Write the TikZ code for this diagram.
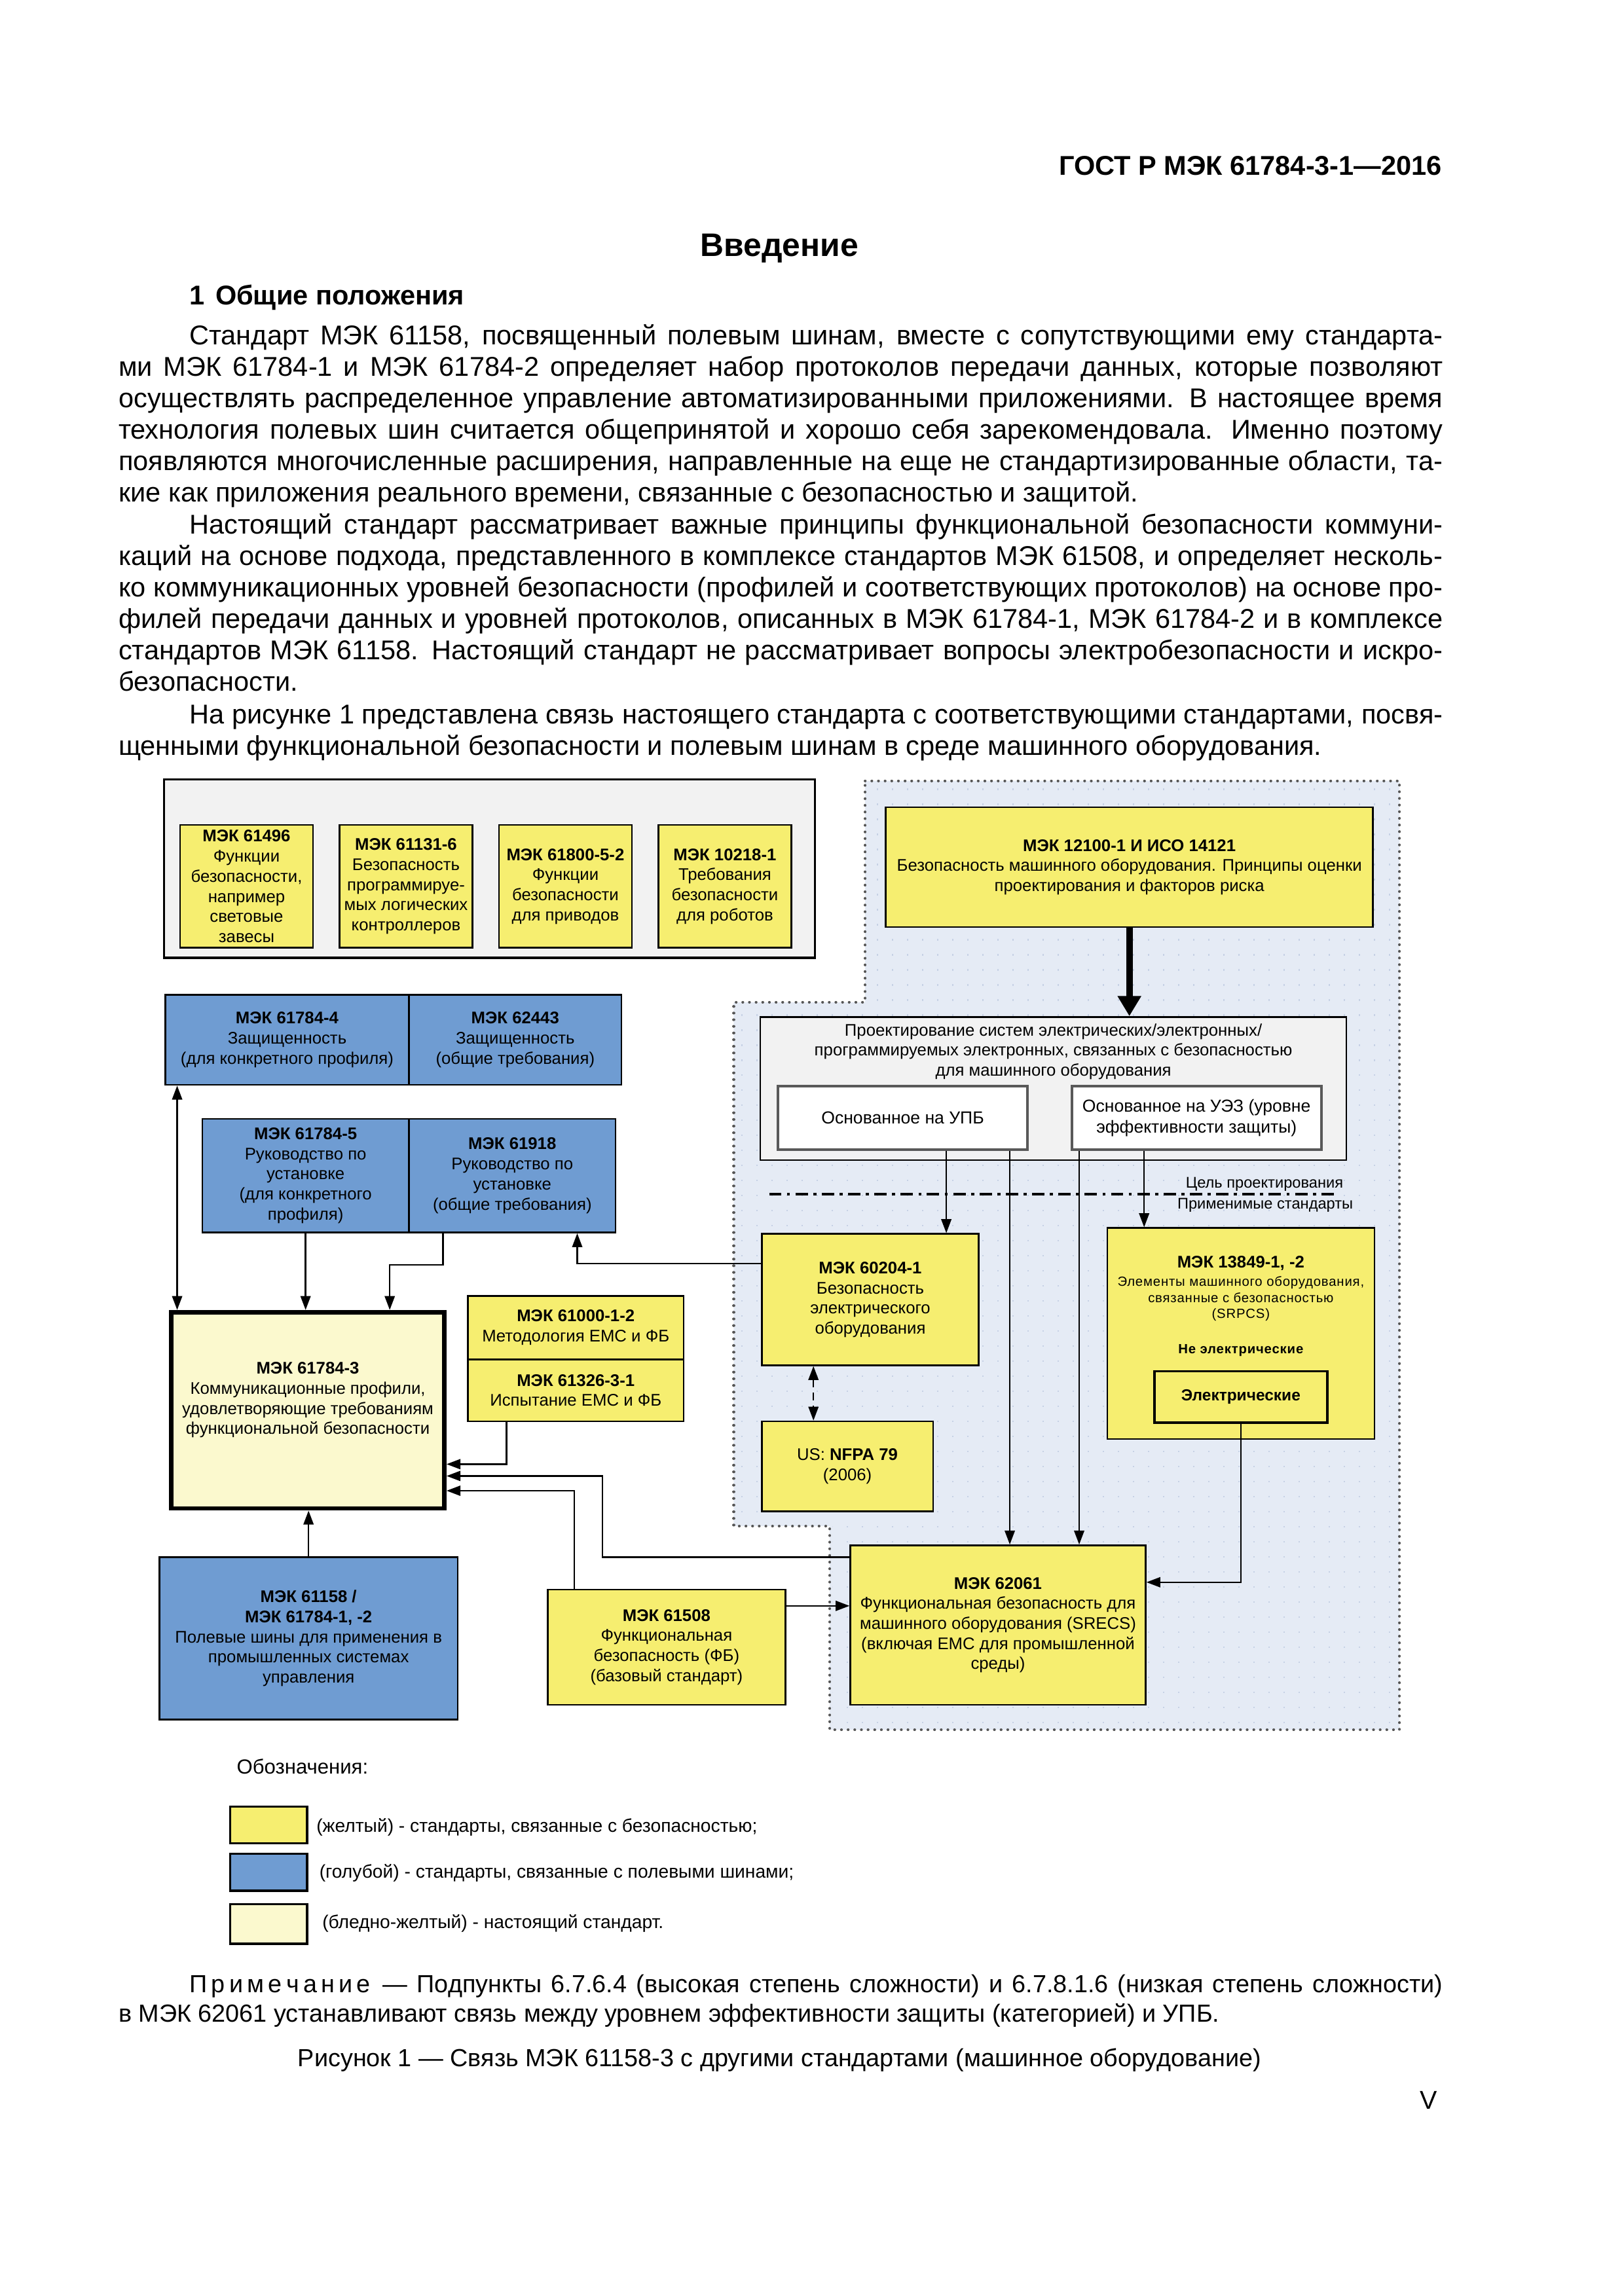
\documentclass[tikz,border=0pt]{standalone}
\usepackage{fontspec}
\setmainfont{Liberation Sans}
\newfontfamily\spacedfont[LetterSpace=4]{Liberation Sans}
\usetikzlibrary{arrows.meta,positioning,calc}

\definecolor{stdyellow}{RGB}{246,238,112}
\definecolor{busblue}{RGB}{111,156,210}
\definecolor{thispale}{RGB}{251,249,206}
\definecolor{groupgrey}{RGB}{242,242,242}
\definecolor{zoneblue}{RGB}{229,235,245}
\definecolor{zonedot}{RGB}{198,209,229}
\definecolor{zoneedge}{RGB}{85,85,85}

\newcommand{\dfont}{\fontsize{6.2}{7.4}\selectfont}
\newcommand{\smallsp}{\spacedfont\fontsize{4.9}{5.95}\selectfont}
\newcommand{\jl}[1]{\makebox[\linewidth][s]{#1}}
\newcommand{\jlin}[1]{\hspace*{9.16mm}\makebox[\dimexpr\linewidth-9.16mm\relax][s]{#1}}

\begin{document}
\begin{tikzpicture}
  [
    x=0.1909mm, y=-0.1909mm,
    sz/.style 2 args = {minimum width=#1*0.1909mm, minimum height=#2*0.1909mm},
    stdbox/.style = {draw, line width=0.6pt, inner sep=1pt, align=center, font=\dfont},
    ybox/.style   = {stdbox, fill=stdyellow},
    bbox/.style   = {stdbox, fill=busblue},
    wbox/.style   = {stdbox, fill=white, draw=black!65, line width=1pt, font=\fontsize{6.4}{7.6}\selectfont},
    pbox/.style   = {stdbox, fill=thispale, line width=1.6pt},
    conn/.style   = {line width=0.6pt, -{Triangle[length=1.8mm,width=1.3mm]}},
    bodytext/.style = {anchor=base west, inner sep=0, font=\fontsize{10}{11.57}\selectfont},
    legtext/.style  = {anchor=west, inner sep=0, font=\fontsize{6.8}{8}\selectfont},
    tiny/.style     = {inner sep=0, font=\fontsize{5.7}{6.8}\selectfont},
  ]

  \useasboundingbox (0,0) rectangle (1100,1555.6);

  % page text
  \node (hdr) [anchor=base east, inner sep=0, font=\fontsize{10}{12}\selectfont\bfseries]
    at (977,118.5) {ГОСТ Р МЭК 61784-3-1—2016};
  \node (title) [anchor=base, inner sep=0, font=\fontsize{12}{14}\selectfont\bfseries]
    at (528,173.5) {Введение};
  \node (sec) [anchor=base west, inner sep=0, font=\fontsize{10}{12}\selectfont\bfseries]
    at (128,206.5) {1\hspace{0.4em}Общие положения};

  \node (par1) [bodytext] at (80,233.5) {\begin{minipage}[t]{171.24mm}\noindent
    \jlin{Стандарт МЭК 61158, посвященный полевым шинам, вместе с сопутствующими ему стандарта-}\\
    \jl{ми МЭК 61784-1 и МЭК 61784-2 определяет набор протоколов передачи данных, которые позволяют}\\
    \jl{осуществлять распределенное управление автоматизированными приложениями. В настоящее время}\\
    \jl{технология полевых шин считается общепринятой и хорошо себя зарекомендовала. Именно поэтому}\\
    \jl{появляются многочисленные расширения, направленные на еще не стандартизированные области, та-}\\
    кие как приложения реального времени, связанные с безопасностью и защитой.
  \end{minipage}};

  \node (par2) [bodytext] at (80,361.8) {\begin{minipage}[t]{171.24mm}\noindent
    \jlin{Настоящий стандарт рассматривает важные принципы функциональной безопасности коммуни-}\\
    \jl{каций на основе подхода, представленного в комплексе стандартов МЭК 61508, и определяет несколь-}\\
    \jl{ко коммуникационных уровней безопасности (профилей и соответствующих протоколов) на основе про-}\\
    \jl{филей передачи данных и уровней протоколов, описанных в МЭК 61784-1, МЭК 61784-2 и в комплексе}\\
    \jl{стандартов МЭК 61158. Настоящий стандарт не рассматривает вопросы электробезопасности и искро-}\\
    безопасности.
  \end{minipage}};

  \node (par3) [bodytext] at (80,490.2) {\begin{minipage}[t]{171.24mm}\noindent
    \jlin{На рисунке 1 представлена связь настоящего стандарта с соответствующими стандартами, посвя-}\\
    щенными функциональной безопасности и полевым шинам в среде машинного оборудования.
  \end{minipage}};

  % machinery zone
  \path[fill=zoneblue, draw=zoneedge, line width=1pt, line cap=round, dash pattern=on 0.01mm off 0.85mm]
    (586,529) -- (948,529) -- (948,1172) -- (562,1172) -- (562,1034)
    -- (497,1034) -- (497,679) -- (586,679) -- cycle;
  \begin{scope}
    \clip (588,531) -- (946,531) -- (946,1170) -- (564,1170) -- (564,1032)
      -- (499,1032) -- (499,681) -- (588,681) -- cycle;
    \foreach \gx in {502,512.2,...,946}
      \foreach \gy in {534,544.2,...,1170}
        \fill[zonedot] (\gx,\gy) rectangle ++(1.2,1.2);
  \end{scope}

  % group of safety standards
  \node (grp) [draw, line width=0.8pt, fill=groupgrey, sz={441}{121}] at (331.5,588.5) {};
  \node (e61496) [ybox, sz={90}{83}] at (167,600.5)
    {\textbf{МЭК 61496}\\Функции\\безопасности,\\например\\световые\\завесы};
  \node (e61131) [ybox, sz={90}{83}] at (275,600.5)
    {\textbf{МЭК 61131-6}\\Безопасность\\программируе-\\мых логических\\контроллеров};
  \node (e61800) [ybox, sz={90}{83}] at (383,600.5)
    {\textbf{МЭК 61800-5-2}\\Функции\\безопасности\\для приводов};
  \node (e10218) [ybox, sz={90}{83}] at (491,600.5)
    {\textbf{МЭК 10218-1}\\Требования\\безопасности\\для роботов};

  \node (iso) [ybox, sz={330}{81}] at (765,587.5)
    {\textbf{МЭК 12100-1 И ИСО 14121}\\Безопасность машинного оборудования. Принципы оценки\\проектирования и факторов риска};

  % design of the systems
  \node (proj) [stdbox, fill=groupgrey, sz={397}{97}] at (713.5,737.5) {};
  \node (projtxt) [align=center, inner sep=0, font=\dfont] at (713.5,712.5)
    {Проектирование систем электрических/электронных/\\программируемых электронных, связанных с безопасностью\\для машинного оборудования};
  \node (upb) [wbox, sz={169}{43}] at (611.5,757.5) {Основанное на УПБ};
  \node (uez) [wbox, sz={169}{43}] at (810.5,757.5) {Основанное на УЭЗ (уровне\\эффективности защиты)};

  \draw[line width=4.3*0.1909mm, -{Triangle[length=2.6mm,width=2.9mm]}] (iso.south) -- (iso.south |- proj.north);

  \coordinate (dl) at (521,809);
  \coordinate (dr) at (905,809);
  \draw[line width=0.9pt, dash pattern=on 1.6mm off 0.7mm on 0.4mm off 0.7mm] (dl) -- (dr);
  \node (goal) [tiny] at (856.5,802.5) {Цель проектирования};
  \node (appl) [tiny] at (857,816.5) {Применимые стандарты};

  % applicable standards
  \node (e60204) [ybox, sz={147}{89}] at (589.5,880.5)
    {\textbf{МЭК 60204-1}\\Безопасность\\электрического\\оборудования};
  \node (nfpa) [ybox, sz={116}{61}] at (574,993.5) {US: \textbf{NFPA 79}\\(2006)};
  \node (e13849) [ybox, sz={181}{143}] at (840.5,903.5) {};
  \node (t13849) [inner sep=0, font=\dfont\bfseries] at (840.5,856) {МЭК 13849-1, -2};
  \node (d13849) [inner sep=0, align=center, font=\smallsp] at (840.5,880)
    {Элементы машинного оборудования,\\связанные с безопасностью\\(SRPCS)};
  \node (nonel) [inner sep=0, font=\smallsp\bfseries] at (840.5,915) {Не электрические};
  \node (elec) [ybox, line width=0.9pt, sz={117}{35}, font=\fontsize{5.9}{7}\selectfont\bfseries] at (840.5,946.5) {Электрические};
  \node (e62061) [ybox, sz={200}{108}] at (676,1101)
    {\textbf{МЭК 62061}\\Функциональная безопасность для\\машинного оборудования (SRECS)\\(включая ЕМС для промышленной\\среды)};

  % fieldbus standards
  \node (e617844) [bbox, sz={165}{61}] at (194.5,704.5)
    {\textbf{МЭК 61784-4}\\Защищенность\\(для конкретного профиля)};
  \node (e62443) [bbox, sz={144}{61}] at (349,704.5)
    {\textbf{МЭК 62443}\\Защищенность\\(общие требования)};
  \node (e617845) [bbox, sz={140}{77}] at (207,796.5)
    {\textbf{МЭК 61784-5}\\Руководство по\\установке\\(для конкретного\\профиля)};
  \node (e61918) [bbox, sz={140}{77}] at (347,796.5)
    {\textbf{МЭК 61918}\\Руководство по\\установке\\(общие требования)};

  \node (e617843) [pbox, sz={185}{133}] at (208.5,955.5) {};
  \node (t617843) [inner sep=0, align=center, font=\dfont] at (208.5,948.5)
    {\textbf{МЭК 61784-3}\\Коммуникационные профили,\\удовлетворяющие требованиям\\функциональной безопасности};
  \node (e61000) [ybox, sz={146}{43}] at (390,899.5) {\textbf{МЭК 61000-1-2}\\Методология ЕМС и ФБ};
  \node (e61326) [ybox, sz={146}{42}] at (390,942) {\textbf{МЭК 61326-3-1}\\Испытание ЕМС и ФБ};
  \node (e61158) [bbox, sz={202}{110}] at (209,1110)
    {\textbf{МЭК 61158 /}\\\textbf{МЭК 61784-1, -2}\\Полевые шины для применения в\\промышленных системах\\управления};
  \node (e61508) [ybox, sz={161}{78}] at (451.5,1116)
    {\textbf{МЭК 61508}\\Функциональная\\безопасность (ФБ)\\(базовый стандарт)};

  % connectors
  \coordinate (kA) at (641,0);
  \coordinate (kB) at (684,0);
  \coordinate (kC) at (731,0);
  \coordinate (kD) at (775,0);
  \draw[conn] (kA |- upb.south) -- (kA |- e60204.north);
  \draw[conn] (kB |- upb.south) -- (kB |- e62061.north);
  \draw[conn] (kC |- uez.south) -- (kC |- e62061.north);
  \draw[conn] (kD |- uez.south) -- (kD |- e13849.north);

  \coordinate (kU) at (551,0);
  \draw[line width=0.6pt, dash pattern=on 1mm off 0.7mm,
    {Triangle[length=1.8mm,width=1.3mm]}-{Triangle[length=1.8mm,width=1.3mm]}]
    (kU |- e60204.south) -- (kU |- nfpa.north);

  \coordinate (k8) at (840.5,1072);
  \draw[conn] (elec.south) -- (k8) -- (k8 -| e62061.east);
  \coordinate (k9) at (532,1088);
  \draw[conn] (k9 -| e61508.east) -- (k9 -| e62061.west);

  \coordinate (k7) at (391,856);
  \draw[conn] (k7 -| e60204.west) -- (k7) -- (k7 |- e61918.south);

  \coordinate (kL) at (120,0);
  \draw[line width=0.6pt, {Triangle[length=1.8mm,width=1.3mm]}-{Triangle[length=1.8mm,width=1.3mm]}]
    (kL |- e617844.south) -- (kL |- e617843.north);
  \draw[conn] (e617845.south) -- (e617845.south |- e617843.north);
  \coordinate (k1) at (300,857);
  \coordinate (k2) at (264,857);
  \draw[conn] (k1 |- e61918.south) -- (k1) -- (k2) -- (k2 |- e617843.north);

  \coordinate (k3) at (343,992);
  \draw[conn] (k3 |- e61326.south) -- (k3) -- (k3 -| e617843.east);
  \coordinate (k4) at (408,1055);
  \coordinate (k5) at (408,1000);
  \draw[conn] (k4 -| e62061.west) -- (k4) -- (k5) -- (k5 -| e617843.east);
  \coordinate (k6) at (389,1010);
  \draw[conn] (k6 |- e61508.north) -- (k6) -- (k6 -| e617843.east);
  \draw[conn] (e61158.north) -- (e61158.north |- e617843.south);

  % legend
  \node (leghead) [anchor=west, inner sep=0, font=\fontsize{7.5}{9}\selectfont] at (160,1197) {Обозначения:};
  \node (legy) [draw, line width=0.8pt, fill=stdyellow, sz={52}{25}] at (182,1236.5) {};
  \node (legb) [draw, line width=0.8pt, fill=busblue, sz={52}{25}] at (182,1268.5) {};
  \node (legp) [draw, line width=0.8pt, fill=thispale, sz={52}{27}] at (182,1303.5) {};
  \node (legyt) [legtext] at (214,1238) {(желтый) - стандарты, связанные с безопасностью;};
  \node (legbt) [legtext] at (216,1269) {(голубой) - стандарты, связанные с полевыми шинами;};
  \node (legpt) [legtext] at (218,1303) {(бледно-желтый) - настоящий стандарт.};

  % note and caption
  \node (note) [anchor=base west, inner sep=0, font=\fontsize{9.1}{10.8}\selectfont] at (80,1350)
    {\begin{minipage}[t]{171.24mm}\noindent
    \jlin{П\,р\,и\,м\,е\,ч\,а\,н\,и\,е\enspace — Подпункты 6.7.6.4 (высокая степень сложности) и 6.7.8.1.6 (низкая степень сложности)}\\
    в МЭК 62061 устанавливают связь между уровнем эффективности защиты (категорией) и УПБ.
    \end{minipage}};
  \node (cap) [anchor=base, inner sep=0, font=\fontsize{9.1}{11}\selectfont] at (528,1400)
    {Рисунок 1 — Связь МЭК 61158-3 с другими стандартами (машинное оборудование)};
  \node (pg) [anchor=base east, inner sep=0, font=\fontsize{9.5}{11}\selectfont] at (974,1429) {V};

\end{tikzpicture}
\end{document}
